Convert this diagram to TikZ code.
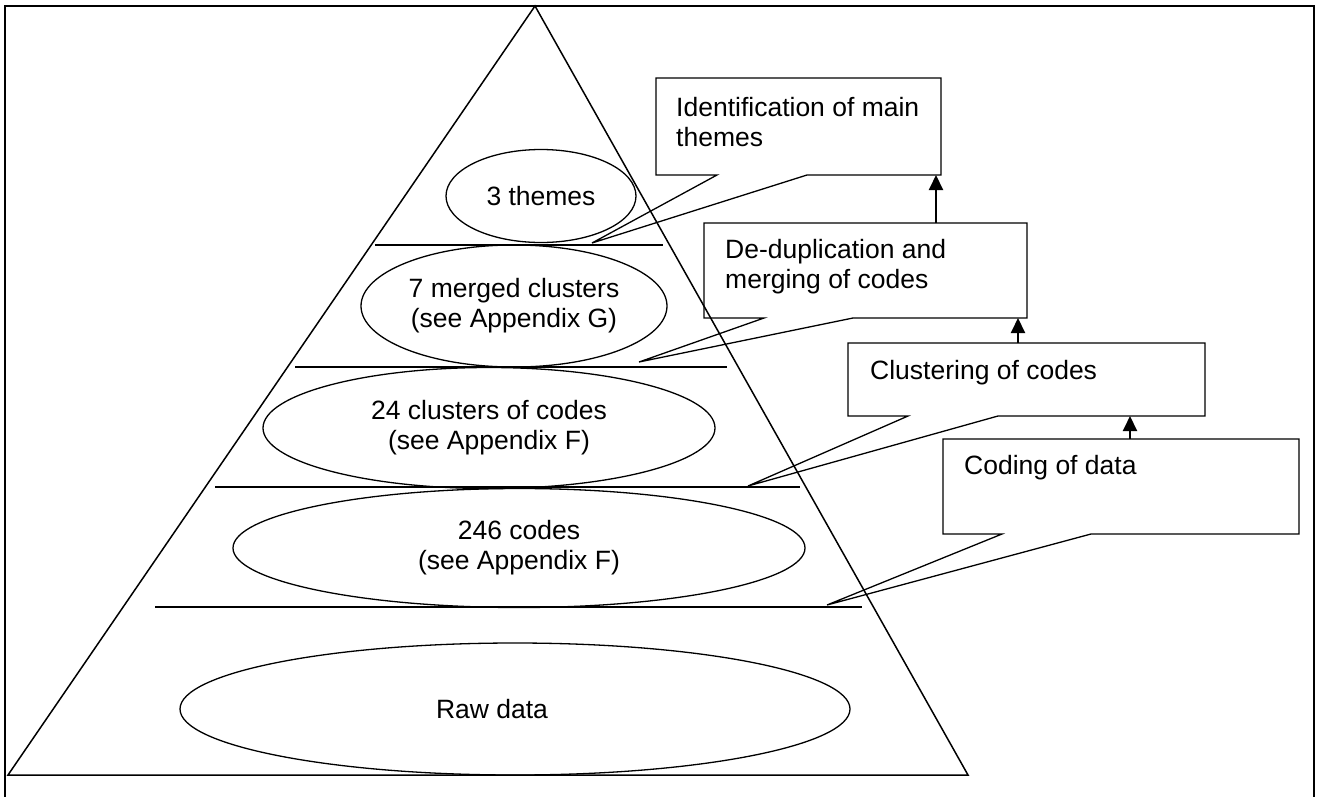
\documentclass[tikz,border=0pt]{standalone}
\usepackage{fontspec}
\setmainfont{Liberation Sans}
\usetikzlibrary{arrows.meta,shapes.geometric}

\tikzset{
  layer/.style={draw, ellipse, line width=1.3pt, inner sep=0pt, align=center},
  divider/.style={line width=1.4pt},
  callout/.style={draw, line width=1.3pt},
  calltext/.style={anchor=north west, inner sep=0pt, align=left},
  stepup/.style={-{Triangle[length=15pt,width=14pt]}, line width=2pt}
}

\begin{document}
\begin{tikzpicture}[x=1pt, y=-1pt, font=\fontsize{26.5}{30}\selectfont]
\useasboundingbox (0,0) rectangle (1318,796);
\draw[line width=2.5pt] (5,800) -- (5,6) -- (1314,6) -- (1314,800);

% pyramid
\draw[line width=1.5pt] (535,6) -- (8,775) -- (968,775) -- cycle;
\draw[divider] (375,245) -- (663,245);
\draw[divider] (295,367) -- (727,367);
\draw[divider] (215,487) -- (800,487);
\draw[divider] (155,607) -- (862,607);

\node[layer, minimum width=190pt, minimum height=93pt] (themes) at (541,196) {3 themes};
\node[layer, minimum width=306pt, minimum height=122pt] (merged) at (514,306)
{7 merged clusters\\(see Appendix G)};
\node[layer, minimum width=452pt, minimum height=121pt] (clusters) at (489,428)
{24 clusters of codes\\(see Appendix F)};
\node[layer, minimum width=572pt, minimum height=119pt] (codes) at (519,548)
{246 codes\\(see Appendix F)};
\node[layer, minimum width=670pt, minimum height=132pt] (raw) at (515,709)
{\hspace*{-46pt}Raw data};

% callouts
\draw[callout] (656,78) -- (941,78) -- (941,175) -- (807,175) -- (592,243) -- (717,175) -- (656,175) -- cycle;
\draw[callout] (704,223) -- (1027,223) -- (1027,318) -- (853,318) -- (639,362) -- (764,318) -- (704,318) -- cycle;
\draw[callout] (848,343) -- (1205,343) -- (1205,416) -- (998,416) -- (748,486) -- (908,416) -- (848,416) -- cycle;
\draw[callout] (943,439) -- (1299,439) -- (1299,534) -- (1091,534) -- (827,605) -- (1002,534) -- (943,534) -- cycle;

\node[calltext] (identify) at (676,97) {Identification of main\\themes};
\node[calltext] (dedup) at (725,239) {De-duplication and\\merging of codes};
\node[calltext] (cluster) at (870,360) {Clustering of codes};
\node[calltext] (coding) at (964,455) {Coding of data};

\coordinate (identify-in) at (936,175);
\coordinate (dedup-out) at (936,223);
\coordinate (dedup-in) at (1018,318);
\coordinate (cluster-out) at (1018,343);
\coordinate (cluster-in) at (1130,416);
\coordinate (coding-out) at (1130,439);
\draw[stepup] (dedup-out) -- (identify-in);
\draw[stepup] (cluster-out) -- (dedup-in);
\draw[stepup] (coding-out) -- (cluster-in);
\end{tikzpicture}
\end{document}
